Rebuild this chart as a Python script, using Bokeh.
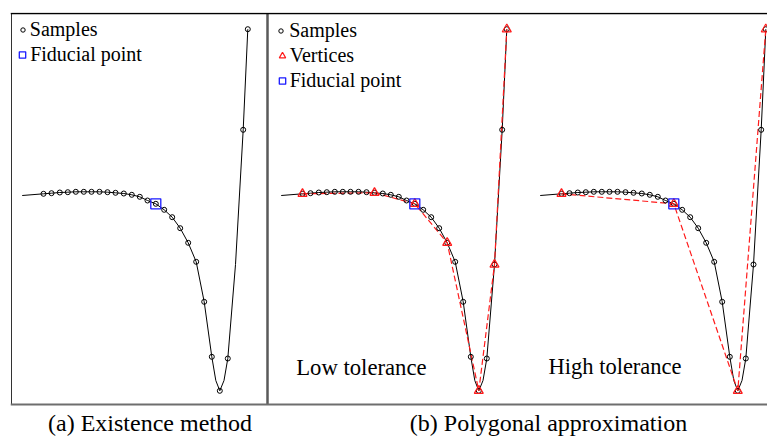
from bokeh.plotting import figure
from bokeh.models import Range1d, Span, Label, Legend, LegendItem
from bokeh.embed import file_html
from bokeh.resources import INLINE

# ---- data (signal units: time t, amplitude a) ----
sample_t = [22, 30, 38.3, 46.3, 54.3, 62.3, 70, 78, 86, 94, 102.3, 110.3, 118.3, 126,
            134.3, 142.7, 150.7, 158.7, 166.7, 174.7, 182.7, 190.3, 198.3, 206.3, 214,
            221.7, 226.3]
sample_a = [6.7, 7.3, 8, 8.3, 8.7, 8.7, 8.7, 8.7, 8.3, 7.7, 7, 5.7, 3.7, 0,
            -3.3, -9.3, -16.7, -27.7, -42.3, -61.3, -101.3, -156.3, -190.3, -158, -64,
            70.7, 171.3]

trace_t = [0.7, 22, 30, 38.3, 46.3, 54.3, 62.3, 70, 78, 86, 94, 102.3, 110.3, 118.3, 126,
           134.3, 142.7, 150.7, 158.7, 166.7, 174.7, 182.7, 190.3, 194.3, 198.3, 202.5,
           206.3, 214, 221.7, 226.3]
trace_a = [5, 6.7, 7.3, 8, 8.3, 8.7, 8.7, 8.7, 8.7, 8.3, 7.7, 7, 5.7, 3.7, 0,
           -3.3, -9.3, -16.7, -27.7, -42.3, -61.3, -101.3, -156.3, -180, -190.3, -180,
           -158, -64, 70.7, 171.3]

# sample marked in panels (b) only
extra_sample_b = 24
fiducial_index = 14
low_tol_vertices = [0, 9, 14, 18, 22, 24, 26]
high_tol_vertices = [0, 14, 22, 26]

panel_shift = {"existence": 0, "low": 259, "high": 518}

captions = ["(a) Existence method", "(b) Polygonal approximation"]
tolerance_labels = ["Low tolerance", "High tolerance"]

BLACK = "#000000"
RED = "#ff1a1a"
BLUE = "#1a1aff"
SERIF = "Liberation Serif"
TEXT_SHIFT = 8.5   # compensates the renderer's alphabetic-baseline offset

FRAME_H = 424
p = figure(width=767, height=436, output_backend="svg", toolbar_location=None,
           x_axis_type=None, y_axis_type=None,
           x_range=Range1d(-11, 746), y_range=Range1d(-236, 188),
           min_border_left=10, min_border_right=0, min_border_top=12, min_border_bottom=0)
p.grid.visible = False
p.outline_line_color = None
p.background_fill_color = "white"
p.border_fill_color = "white"

# panel frame pieces (left edge, divider) spanning the panel's amplitude extent
AMP_TOP, AMP_BOTTOM = 187, -204
p.segment(x0=[-10, 246], y0=[AMP_BOTTOM, AMP_BOTTOM], x1=[-10, 246], y1=[AMP_TOP, AMP_TOP],
          line_color=["#333333", "#5a5a5a"], line_width=[1, 2.5])
p.add_layout(Span(location=AMP_TOP, dimension="width", line_color=BLACK, line_width=1.5))
p.add_layout(Span(location=AMP_BOTTOM, dimension="width", line_color="#6e6e6e", line_width=2))

renderers = {}
for name, dx in panel_shift.items():
    tt = [t + dx for t in trace_t]
    p.line(tt, trace_a, line_color=BLACK, line_width=1)
    if name != "existence":
        verts = low_tol_vertices if name == "low" else high_tol_vertices
        vt = [sample_t[i] + dx for i in verts]
        va = [sample_a[i] for i in verts]
        p.line(vt, va, line_color=RED, line_width=1.2, line_dash="6 3")
    idx = [i for i in range(len(sample_t))
           if not (name == "existence" and i == extra_sample_b)]
    st = [sample_t[i] + dx for i in idx]
    sa = [sample_a[i] for i in idx]
    rs = p.scatter(st, sa, marker="circle", size=5, line_color=BLACK,
                   line_width=1, fill_color=None)
    rv = None
    if name != "existence":
        rv = p.scatter(vt, va, marker="triangle", size=9, line_color=RED,
                       line_width=1.2, fill_color=None)
    rf = p.scatter([sample_t[fiducial_index] + dx], [sample_a[fiducial_index]],
                   marker="square", size=10, line_color=BLUE, line_width=1.3,
                   fill_color=None)
    renderers[name] = (rs, rv, rf)

def make_legend(items, gw, standoff, x, top, n):
    lg = Legend(items=items, location=(x, FRAME_H - top - 25 * n),
                glyph_width=gw, glyph_height=25, label_height=25, spacing=0,
                padding=0, margin=0, label_standoff=standoff,
                border_line_color=None, background_fill_alpha=0,
                label_text_font=SERIF, label_text_font_size="20px",
                label_text_color=BLACK)
    p.add_layout(lg)

ls, _, lf = renderers["existence"]
make_legend([LegendItem(label="Samples", renderers=[ls])], 11, 2, 6.8, 5.0, 1)
make_legend([LegendItem(label="Fiducial point", renderers=[lf])], 16, 0, 4.2, 30.2, 1)
rs, rv, rf = renderers["low"]
make_legend([LegendItem(label="Samples", renderers=[rs])], 11, 3, 265.2, 6.2, 1)
make_legend([LegendItem(label="Vertices", renderers=[rv]),
             LegendItem(label="Fiducial point", renderers=[rf])], 16, 0, 263.7, 30.8, 2)

# in-panel tolerance labels
p.add_layout(Label(x=274.7, y=-175.7 + TEXT_SHIFT, text=tolerance_labels[0], text_font=SERIF,
                   text_font_size="22.7px", text_color=BLACK, text_baseline="alphabetic"))
p.add_layout(Label(x=527, y=-174 + TEXT_SHIFT, text=tolerance_labels[1], text_font=SERIF,
                   text_font_size="22.5px", text_color=BLACK, text_baseline="alphabetic"))

# captions below panels
p.add_layout(Label(x=128.5, y=-231 + TEXT_SHIFT, text=captions[0], text_font=SERIF,
                   text_font_size="24px", text_color=BLACK, text_align="center",
                   text_baseline="alphabetic"))
p.add_layout(Label(x=527, y=-231 + TEXT_SHIFT, text=captions[1], text_font=SERIF,
                   text_font_size="24px", text_color=BLACK, text_align="center",
                   text_baseline="alphabetic"))

open("out.html", "w").write(file_html(p, INLINE))
